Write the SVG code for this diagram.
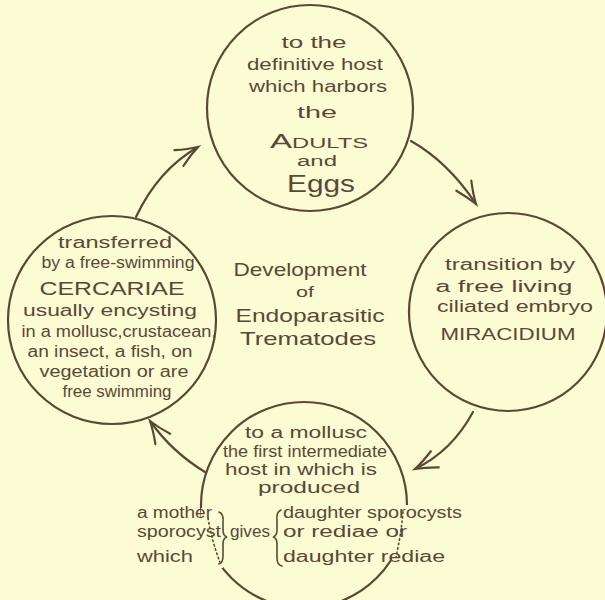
<svg xmlns="http://www.w3.org/2000/svg" width="605" height="600" viewBox="0 0 605 600">
<defs>
<style>
.bg{fill:#fcfcd4}
.c{fill:none;stroke:#5a4834;stroke-width:2.2}
.t{font-family:"Liberation Sans",Arial,sans-serif;font-size:16px;fill:#5a4834;text-anchor:middle}
.l{text-anchor:start}
.big{font-size:19px}
.conn{fill:none;stroke:#5a4834;stroke-width:2.2;stroke-linecap:round}
.dot{fill:none;stroke:#5a4834;stroke-width:1.6;stroke-dasharray:1.5 3;stroke-linecap:round}
</style>
<marker id="ah" markerUnits="userSpaceOnUse" viewBox="-26 -14 30 28" refX="0" refY="0" markerWidth="30" markerHeight="28" orient="auto">
<path d="M-22 -9 Q-10 -3 0 0 Q-10 3 -22 9" fill="none" stroke="#5a4834" stroke-width="2.2" stroke-linecap="round"/>
</marker>
</defs>
<rect class="bg" width="605" height="600"/>
<g id="connectors">
<path class="conn" d="M136 217 Q158 170 198 147" marker-end="url(#ah)"/>
<path class="conn" d="M411 141 Q448 162 476 204" marker-end="url(#ah)"/>
<path class="conn" d="M473 412 Q452 451 415 469" marker-end="url(#ah)"/>
<path class="conn" d="M205 472 Q172 452 150 421" marker-end="url(#ah)"/>
</g>
<g id="adults">
<circle class="c" cx="310" cy="108" r="103"/>
<text class="t" x="314" y="48" textLength="65" lengthAdjust="spacingAndGlyphs">to the</text>
<text class="t" x="315" y="70" textLength="136" lengthAdjust="spacingAndGlyphs">definitive host</text>
<text class="t" x="318" y="92" textLength="138" lengthAdjust="spacingAndGlyphs">which harbors</text>
<text class="t" x="317" y="118" textLength="40" lengthAdjust="spacingAndGlyphs">the</text>
<text class="t" x="319" y="148" style="font-size:15px" textLength="98" lengthAdjust="spacingAndGlyphs"><tspan style="font-size:21px">A</tspan>DULTS</text>
<text class="t" x="317" y="166" style="font-size:14px" textLength="40" lengthAdjust="spacingAndGlyphs">and</text>
<text class="t" x="321" y="192" style="font-size:24px" textLength="68" lengthAdjust="spacingAndGlyphs">Eggs</text>
</g>
<g id="miracidium">
<circle class="c" cx="508" cy="312" r="99"/>
<text class="t" x="510" y="270" textLength="130" lengthAdjust="spacingAndGlyphs">transition by</text>
<text class="t" x="504" y="292" textLength="137" lengthAdjust="spacingAndGlyphs">a free living</text>
<text class="t" x="515" y="312" textLength="156" lengthAdjust="spacingAndGlyphs">ciliated embryo</text>
<text class="t" x="508" y="340" style="font-size:16px" textLength="135" lengthAdjust="spacingAndGlyphs">MIRACIDIUM</text>
</g>
<g id="mollusc">
<circle class="c" cx="304" cy="505" r="103"/>
<rect x="201" y="508" width="22" height="60" class="bg"/>
<rect x="392" y="505" width="22" height="58" class="bg"/>
<path class="dot" d="M208 518 Q212 542 220 562"/>
<path class="dot" d="M403 512 Q401 535 396 557"/>
<text class="t" x="306" y="438" textLength="122" lengthAdjust="spacingAndGlyphs">to a mollusc</text>
<text class="t" x="305" y="457" textLength="164" lengthAdjust="spacingAndGlyphs">the first intermediate</text>
<text class="t" x="301" y="475" textLength="152" lengthAdjust="spacingAndGlyphs">host in which is</text>
<text class="t" x="309" y="493" textLength="102" lengthAdjust="spacingAndGlyphs">produced</text>
<text class="t l" x="137" y="518" textLength="75" lengthAdjust="spacingAndGlyphs">a mother</text>
<text class="t l" x="137" y="537" textLength="84" lengthAdjust="spacingAndGlyphs">sporocyst</text>
<text class="t l" x="137" y="562" textLength="56" lengthAdjust="spacingAndGlyphs">which</text>
<path class="conn" style="stroke-width:1.6" d="M219 512 Q224 514 223 522 L223 530 Q223 536 227 537 Q223 538 223 544 L223 556 Q223 563 219 564"/>
<text class="t l" x="230" y="537" textLength="40" lengthAdjust="spacingAndGlyphs">gives</text>
<path class="conn" style="stroke-width:1.6" d="M281 510 Q276 512 277 520 L277 530 Q277 536 273 537 Q277 538 277 544 L277 558 Q277 565 282 566"/>
<text class="t l" x="283" y="518" textLength="179" lengthAdjust="spacingAndGlyphs">daughter sporocysts</text>
<text class="t l" x="283" y="537" textLength="124" lengthAdjust="spacingAndGlyphs">or rediae or</text>
<text class="t l" x="283" y="562" textLength="162" lengthAdjust="spacingAndGlyphs">daughter rediae</text>
</g>
<g id="cercariae">
<circle class="c" cx="112" cy="320" r="104"/>
<text class="t" x="115" y="248" textLength="114" lengthAdjust="spacingAndGlyphs">transferred</text>
<text class="t" x="118" y="268" textLength="153" lengthAdjust="spacingAndGlyphs">by a free-swimming</text>
<text class="t" x="112" y="295" style="font-size:18px" textLength="145" lengthAdjust="spacingAndGlyphs">CERCARIAE</text>
<text class="t" x="110" y="316" textLength="174" lengthAdjust="spacingAndGlyphs">usually encysting</text>
<text class="t" x="119" y="337" textLength="195" lengthAdjust="spacingAndGlyphs">in a mollusc,crustacean,</text>
<text class="t" x="110" y="357" textLength="165" lengthAdjust="spacingAndGlyphs">an insect, a fish, on</text>
<text class="t" x="114" y="377" textLength="149" lengthAdjust="spacingAndGlyphs">vegetation or are</text>
<text class="t" x="117" y="397" textLength="109" lengthAdjust="spacingAndGlyphs">free swimming</text>
</g>
<g id="title">
<text class="t big" x="300" y="276" textLength="133" lengthAdjust="spacingAndGlyphs">Development</text>
<text class="t" x="305" y="297" style="font-size:15px" textLength="18" lengthAdjust="spacingAndGlyphs">of</text>
<text class="t big" x="310" y="322" textLength="149" lengthAdjust="spacingAndGlyphs">Endoparasitic</text>
<text class="t big" x="308" y="345" textLength="136" lengthAdjust="spacingAndGlyphs">Trematodes</text>
</g>
</svg>
